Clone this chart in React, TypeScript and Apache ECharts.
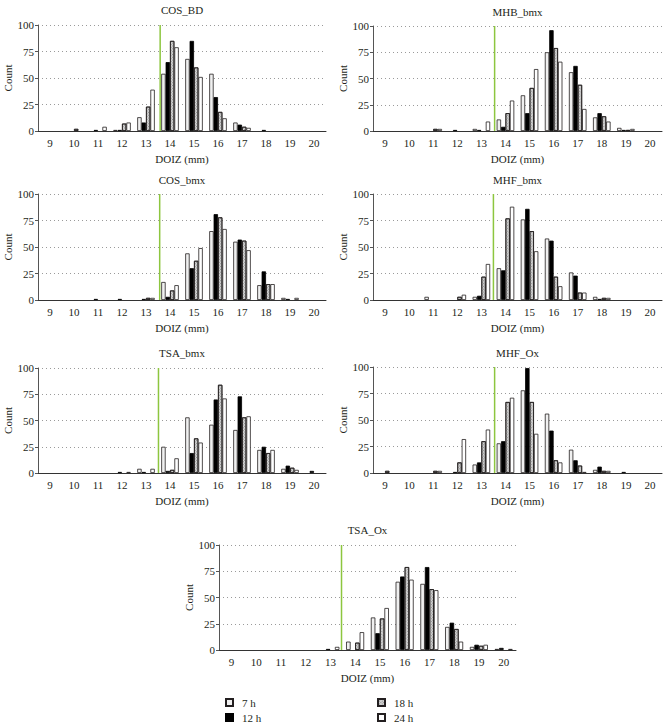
import React, { useEffect, useRef } from "react";
import * as echarts from "echarts";

const categories = ["9", "10", "11", "12", "13", "14", "15", "16", "17", "18", "19", "20"];
const seriesNames = ["7 h", "12 h", "18 h", "24 h"];
const panelTitles = ["COS_BD", "MHB_bmx", "COS_bmx", "MHF_bmx", "TSA_bmx", "MHF_Ox", "TSA_Ox"];
const thresholds = [13.59, 13.55, 13.57, 13.5, 13.52, 13.55, 13.45];

// COS_BD
const cosBd7 = [0, 0, 0, 1, 13, 54, 68, 54, 8, 0, 0, 0];
const cosBd12 = [0, 0, 1, 1, 8, 65, 85, 32, 6, 1, 0, 0];
const cosBd18 = [0, 2, 0, 7, 23, 85, 60, 18, 4, 0, 0, 0];
const cosBd24 = [0, 0, 4, 8, 39, 79, 51, 12, 3, 0, 0, 0];
// MHB_bmx
const mhbBmx7 = [0, 0, 0, 0, 2, 11, 34, 75, 56, 13, 3, 0];
const mhbBmx12 = [0, 0, 0, 1, 1, 4, 17, 96, 62, 17, 1, 0];
const mhbBmx18 = [0, 0, 2, 0, 0, 17, 41, 79, 44, 14, 1, 0];
const mhbBmx24 = [0, 0, 2, 0, 9, 29, 59, 66, 21, 9, 2, 0];
// COS_bmx
const cosBmx7 = [0, 0, 0, 0, 0, 17, 44, 65, 55, 14, 2, 0];
const cosBmx12 = [0, 0, 1, 1, 1, 3, 30, 81, 57, 27, 1, 0];
const cosBmx18 = [0, 0, 0, 0, 2, 9, 37, 78, 56, 15, 0, 0];
const cosBmx24 = [0, 0, 0, 0, 2, 14, 49, 67, 47, 15, 2, 0];
// MHF_bmx
const mhfBmx7 = [0, 0, 3, 0, 3, 30, 76, 58, 26, 3, 0, 0];
const mhfBmx12 = [0, 0, 0, 0, 4, 28, 86, 56, 23, 1, 0, 0];
const mhfBmx18 = [0, 0, 0, 3, 22, 77, 65, 22, 7, 2, 0, 0];
const mhfBmx24 = [0, 0, 0, 5, 34, 88, 46, 13, 7, 2, 0, 0];
// TSA_bmx
const tsaBmx7 = [0, 0, 0, 0, 4, 25, 53, 46, 41, 22, 4, 0];
const tsaBmx12 = [0, 0, 0, 1, 1, 2, 19, 70, 73, 25, 7, 2];
const tsaBmx18 = [0, 0, 0, 0, 0, 3, 33, 84, 53, 19, 5, 0];
const tsaBmx24 = [0, 0, 0, 1, 4, 14, 29, 71, 54, 22, 3, 0];
// MHF_Ox
const mhfOx7 = [0, 0, 0, 0, 8, 28, 78, 56, 22, 3, 0, 0];
const mhfOx12 = [0, 0, 0, 1, 10, 30, 99, 40, 12, 6, 1, 0];
const mhfOx18 = [2, 0, 2, 10, 30, 67, 67, 12, 7, 2, 0, 0];
const mhfOx24 = [0, 0, 2, 32, 41, 71, 37, 10, 1, 2, 0, 0];
// TSA_Ox
const tsaOx7 = [0, 0, 0, 0, 0, 8, 31, 65, 63, 22, 3, 1];
const tsaOx12 = [0, 0, 0, 0, 1, 0, 16, 70, 79, 26, 5, 2];
const tsaOx18 = [0, 0, 0, 0, 0, 7, 30, 79, 58, 20, 4, 0];
const tsaOx24 = [0, 0, 0, 0, 3, 17, 40, 67, 57, 8, 5, 1];

const panelData = [
  [cosBd7, cosBd12, cosBd18, cosBd24],
  [mhbBmx7, mhbBmx12, mhbBmx18, mhbBmx24],
  [cosBmx7, cosBmx12, cosBmx18, cosBmx24],
  [mhfBmx7, mhfBmx12, mhfBmx18, mhfBmx24],
  [tsaBmx7, tsaBmx12, tsaBmx18, tsaBmx24],
  [mhfOx7, mhfOx12, mhfOx18, mhfOx24],
  [tsaOx7, tsaOx12, tsaOx18, tsaOx24],
];

const grids = [
  { left: 38, top: 25, width: 288, height: 106 },
  { left: 373, top: 26, width: 289, height: 105 },
  { left: 38, top: 194, width: 288, height: 106 },
  { left: 373, top: 194, width: 289, height: 106 },
  { left: 38, top: 368, width: 288, height: 105 },
  { left: 373, top: 367, width: 289, height: 106 },
  { left: 219, top: 545, width: 297, height: 105 },
];
const titleY = [10, 12, 180, 180, 353, 353, 530];

const FONT = "Times New Roman, Liberation Serif, serif";
const TEXT = "#231f20";

const seriesStyles: any[] = [
  { color: "#f0f0f0", borderColor: "#231f20", borderWidth: 0.8 },
  { color: "#000000", borderColor: "#000000", borderWidth: 0.8 },
  {
    color: "#d2d2d2",
    borderColor: "#231f20",
    borderWidth: 0.8,
    decal: {
      symbol: "rect",
      symbolSize: 1,
      color: "rgba(70,70,70,0.5)",
      dashArrayX: [1, 1],
      dashArrayY: [1, 1],
      rotation: Math.PI / 4,
    },
  },
  { color: "#ffffff", borderColor: "#231f20", borderWidth: 0.8 },
];

export default function App() {
  const ref = useRef<HTMLDivElement>(null);
  useEffect(() => {
    if (!ref.current) return;
    const chart = echarts.init(ref.current, undefined, { renderer: "svg" });
    const xAxes: any[] = [];
    const yAxes: any[] = [];
    const series: any[] = [];
    const graphics: any[] = [];
    grids.forEach((g, i) => {
      xAxes.push({
        type: "category",
        gridIndex: i,
        data: categories,
        boundaryGap: true,
        axisLine: { lineStyle: { color: "#333", width: 1 } },
        axisTick: { show: false },
        axisLabel: { fontFamily: FONT, fontSize: 11, color: TEXT, margin: 6, interval: 0 },
        name: "DOIZ (mm)",
        nameLocation: "middle",
        nameGap: 22,
        nameTextStyle: { fontFamily: FONT, fontSize: 11, color: TEXT },
      });
      xAxes.push({
        type: "value",
        gridIndex: i,
        min: 8.5,
        max: 20.5,
        show: false,
      });
      yAxes.push({
        type: "value",
        gridIndex: i,
        min: 0,
        max: 100,
        interval: 25,
        axisLine: { show: true, lineStyle: { color: "#555", width: 1 } },
        axisTick: { show: true, length: 3, lineStyle: { color: "#555" } },
        axisLabel: { fontFamily: FONT, fontSize: 11, color: TEXT, margin: 4 },
        splitLine: { show: true, lineStyle: { color: "#9a9a9a", type: [1, 3], width: 1 } },
        name: "Count",
        nameLocation: "middle",
        nameGap: 24,
        nameRotate: 90,
        nameTextStyle: { fontFamily: FONT, fontSize: 11, color: TEXT },
      });
      panelData[i].forEach((vals, s) => {
        series.push({
          type: "bar",
          name: seriesNames[s],
          xAxisIndex: 2 * i,
          yAxisIndex: i,
          data: vals.map((v) => (v === 0 ? "-" : v)),
          barGap: "0%",
          barCategoryGap: "27%",
          itemStyle: seriesStyles[s],
          emphasis: { disabled: true },
        });
      });
      series.push({
        type: "line",
        xAxisIndex: 2 * i + 1,
        yAxisIndex: i,
        data: [
          [thresholds[i], 0],
          [thresholds[i], 100],
        ],
        symbol: "none",
        silent: true,
        z: 5,
        lineStyle: { color: "#8dc63f", width: 1.5 },
      });
      graphics.push({
        type: "text",
        x: g.left + g.width / 2,
        y: titleY[i],
        style: {
          text: panelTitles[i],
          textAlign: "center",
          textVerticalAlign: "middle",
          fontFamily: FONT,
          fontSize: 11,
          fontWeight: "normal",
          fill: TEXT,
        },
      });
    });
    const legendCommon = {
      orient: "vertical",
      top: 697,
      itemWidth: 7,
      itemHeight: 7,
      itemGap: 4,
      padding: 0,
      icon: "rect",
      selectedMode: false,
      textStyle: { fontFamily: FONT, fontSize: 11, color: TEXT, padding: [0, 0, 0, 4] },
    };
    chart.setOption({
      animation: false,
      backgroundColor: "#ffffff",
      textStyle: { fontFamily: FONT },
      grid: grids.map((g) => ({ ...g, containLabel: false })),
      xAxis: xAxes,
      yAxis: yAxes,
      series,
      graphic: graphics,
      legend: [
        { ...legendCommon, left: 225, data: ["7 h", "12 h"] },
        { ...legendCommon, left: 377, data: ["18 h", "24 h"] },
      ],
    });
    return () => chart.dispose();
  }, []);
  return (
    <div
      ref={ref}
      style={{ position: "absolute", left: 0, top: 0, width: 669, height: 726 }}
    />
  );
}
